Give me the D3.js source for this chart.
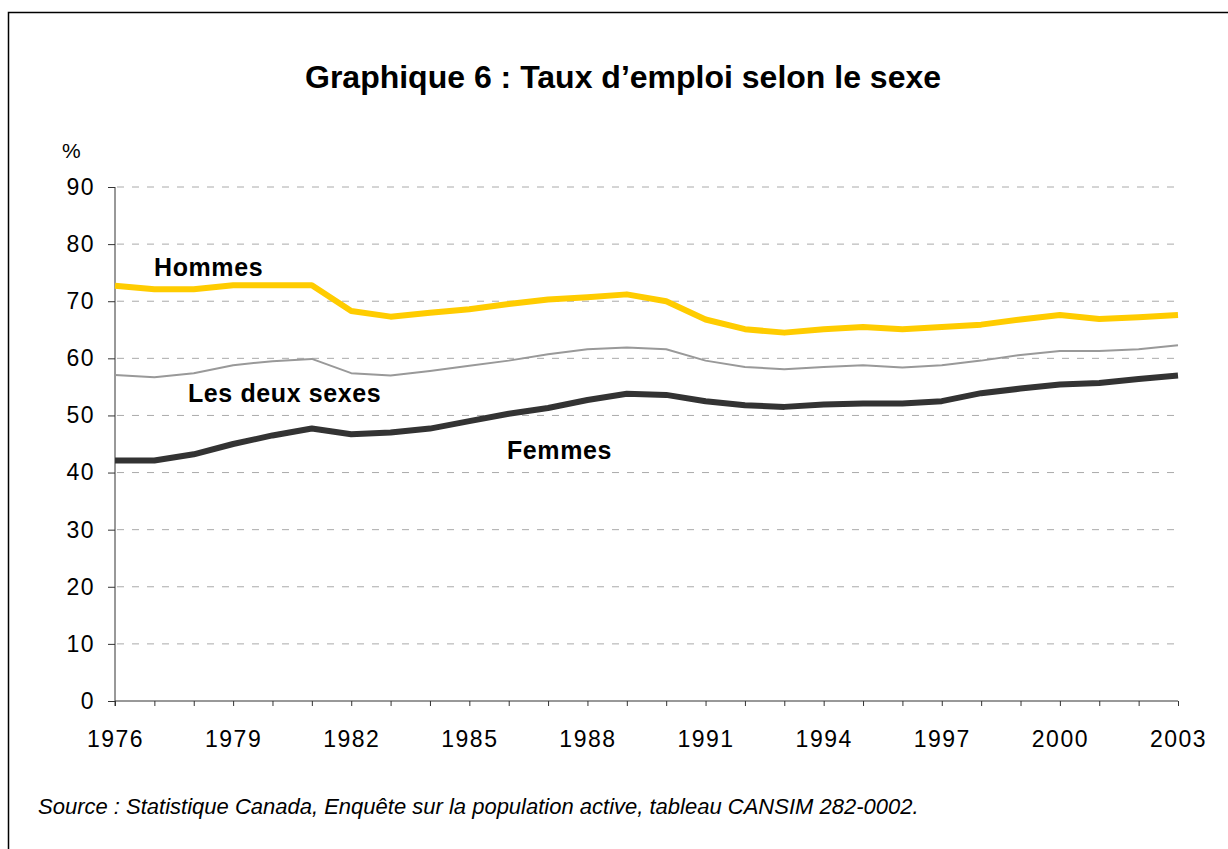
<!DOCTYPE html>
<html lang="fr">
<head>
<meta charset="UTF-8">
<title>Graphique 6</title>
<style>
body { margin: 0; background: #fff; }
text { font-family: "Liberation Sans", Arial, sans-serif; fill: #000; }
.grid line { stroke: #aaa; stroke-width: 1px; stroke-dasharray: 7 8; }
.axis path, .axis line { stroke: #333; }
</style>
</head>
<body>
<script src="https://cdn.jsdelivr.net/npm/d3@7"></script>
<script>
var years = d3.range(1976, 2004);
var hommes = [72.7, 72.1, 72.1, 72.8, 72.8, 72.8, 68.3, 67.3, 68.0, 68.6,
  69.5, 70.3, 70.7, 71.2, 70.0, 66.8, 65.1, 64.5, 65.1, 65.5,
  65.1, 65.5, 65.9, 66.8, 67.6, 66.9, 67.2, 67.6];
var deuxSexes = [57.1, 56.7, 57.4, 58.8, 59.5, 59.9, 57.4, 57.0, 57.8, 58.7,
  59.6, 60.7, 61.6, 61.9, 61.6, 59.6, 58.5, 58.1, 58.5, 58.8,
  58.4, 58.8, 59.6, 60.6, 61.3, 61.3, 61.6, 62.3];
var femmes = [42.1, 42.1, 43.2, 45.0, 46.5, 47.7, 46.7, 47.0, 47.7, 49.0,
  50.3, 51.3, 52.7, 53.8, 53.6, 52.5, 51.8, 51.5, 51.9, 52.1,
  52.1, 52.5, 53.9, 54.7, 55.4, 55.7, 56.4, 57.0];
var yTicks = [0, 10, 20, 30, 40, 50, 60, 70, 80, 90];
var xLabels = [1976, 1979, 1982, 1985, 1988, 1991, 1994, 1997, 2000, 2003];

var width = 1228, height = 849;
var svg = d3.select("body").append("svg")
  .attr("width", width).attr("height", height);

// frame
svg.append("rect")
  .attr("x", 8.5).attr("y", 12.5)
  .attr("width", 1240).attr("height", 860)
  .attr("fill", "none").attr("stroke", "#000").attr("stroke-width", 1.5);

var x = d3.scaleLinear().domain([1976, 2003]).range([115, 1178]);
var y = d3.scaleLinear().domain([0, 90]).range([701, 187]);

svg.append("text")
  .attr("x", 623).attr("y", 88)
  .attr("text-anchor", "middle")
  .style("font-size", "32px").style("font-weight", "bold")
  .text("Graphique 6 : Taux d\u2019emploi selon le sexe");

// gridlines
svg.append("g").attr("class", "grid")
  .selectAll("line").data(yTicks.filter(d => d > 0)).enter()
  .append("line")
  .attr("x1", x(1976) + 2).attr("x2", x(2003))
  .attr("y1", d => y(d)).attr("y2", d => y(d));

// y axis
var yAxis = svg.append("g").attr("class", "axis")
  .attr("transform", "translate(" + x(1976) + ",0)")
  .call(d3.axisLeft(y).tickValues(yTicks).tickSize(7).tickPadding(13));
yAxis.select(".domain").attr("d", "M0," + y(90) + "V" + (y(0) + 5));
yAxis.selectAll("text").style("font-size", "23px")
  .style("letter-spacing", "1.5px")
  .attr("font-family", null);

svg.append("text")
  .attr("x", 62).attr("y", 158)
  .style("font-size", "21px")
  .text("%");

// x axis
var xAxis = svg.append("g").attr("class", "axis")
  .attr("transform", "translate(0," + y(0) + ")")
  .call(d3.axisBottom(x).tickValues(years).tickSize(5).tickPadding(25)
    .tickFormat(d => xLabels.indexOf(d) >= 0 ? d : ""));
xAxis.select(".domain").attr("d", "M" + x(1976) + ",0H" + x(2003));
xAxis.selectAll("text").style("font-size", "23px")
  .style("letter-spacing", "1.5px")
  .attr("font-family", null);

// lines
var line = d3.line().x((d, i) => x(years[i])).y(d => y(d));
var series = [
  { values: deuxSexes, color: "#999999", w: 2 },
  { values: femmes, color: "#333333", w: 6 },
  { values: hommes, color: "#FFCC00", w: 6 }
];
svg.selectAll("path.serie").data(series).enter()
  .append("path").attr("class", "serie")
  .attr("d", d => line(d.values))
  .attr("fill", "none")
  .attr("stroke", d => d.color)
  .attr("stroke-width", d => d.w)
  .attr("stroke-linejoin", "round");

// series labels
var labels = [
  { text: "Hommes", x: 154, y: 276 },
  { text: "Les deux sexes", x: 188, y: 402 },
  { text: "Femmes", x: 507, y: 459 }
];
svg.selectAll("text.lbl").data(labels).enter()
  .append("text").attr("class", "lbl")
  .attr("x", d => d.x).attr("y", d => d.y)
  .style("font-size", "25px").style("font-weight", "bold")
  .style("letter-spacing", "0.6px")
  .text(d => d.text);

svg.append("text")
  .attr("x", 38).attr("y", 814)
  .style("font-size", "22px").style("font-style", "italic")
  .text("Source : Statistique Canada, Enqu\u00eate sur la population active, tableau CANSIM 282-0002.");
</script>
</body>
</html>
